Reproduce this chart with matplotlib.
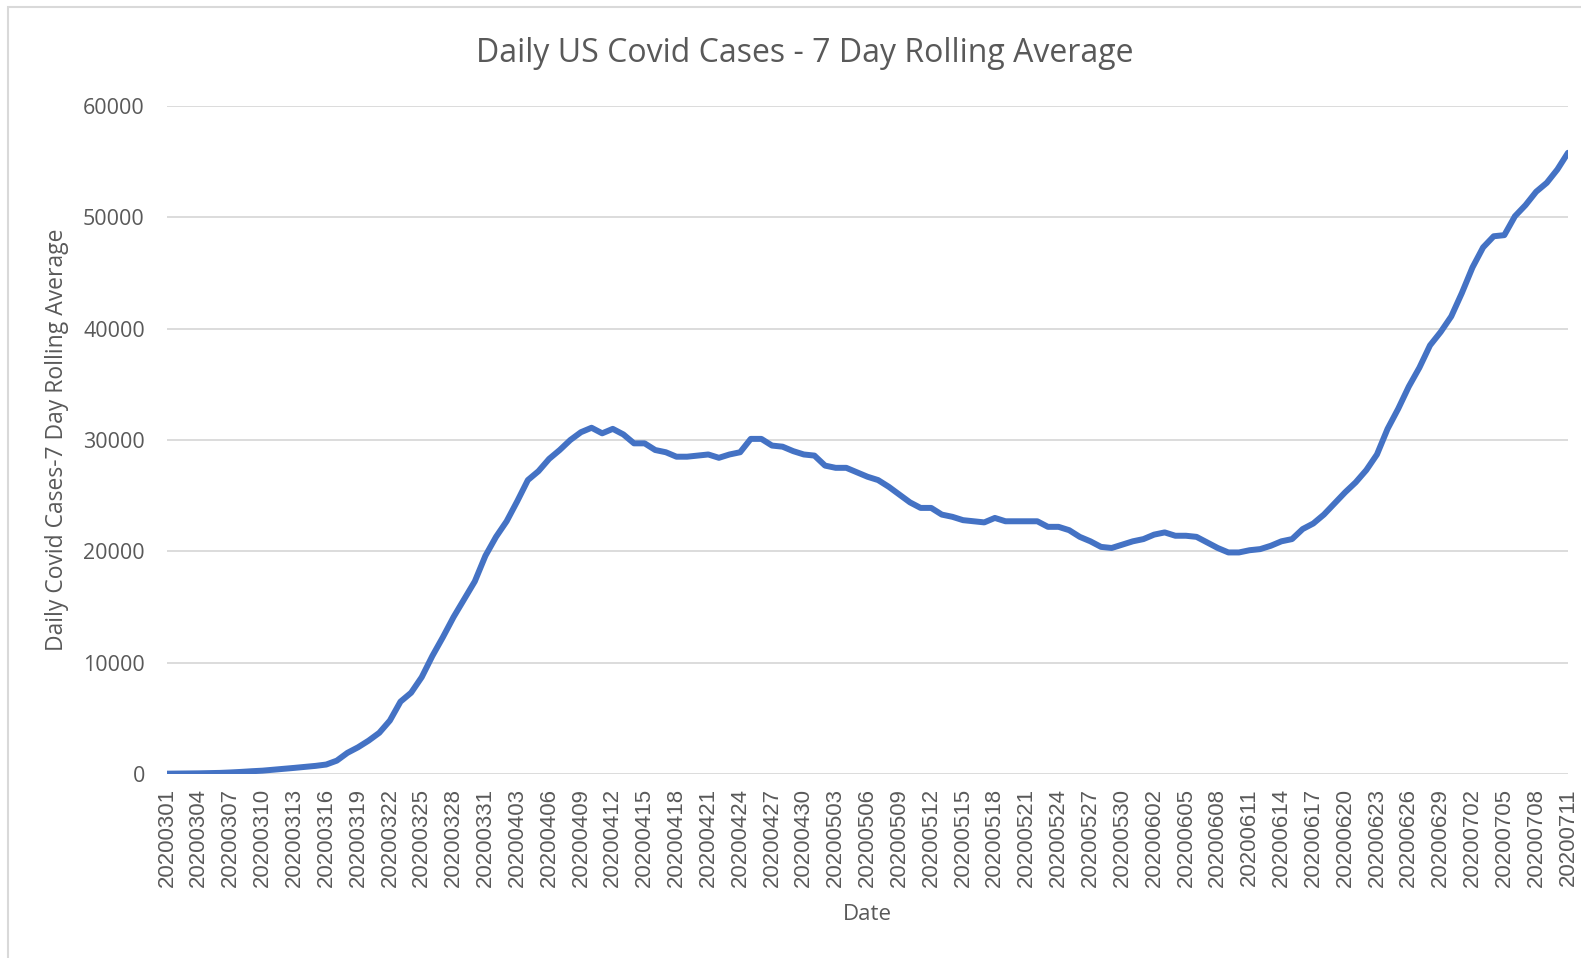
import numpy as np
import pandas as pd
import matplotlib
matplotlib.use('Agg')
import matplotlib.pyplot as plt
from matplotlib.patches import Rectangle

# 7 day rolling average, one value per day
march = [30, 40, 50, 60, 80, 100, 140, 190, 250, 300, 380, 460, 550, 640, 730, 850,
         1200, 1900, 2400, 3000, 3700, 4800, 6500, 7300, 8700, 10600, 12300, 14100,
         15700, 17300, 19600]
april = [21300, 22700, 24500, 26400, 27200, 28300, 29100, 30000, 30700, 31100,
         30600, 31000, 30500, 29700, 29700, 29100, 28900, 28500, 28500, 28600,
         28700, 28400, 28700, 28900, 30100, 30100, 29500, 29400, 29000, 28700]
may = [28600, 27700, 27500, 27500, 27100, 26700, 26400, 25800, 25100, 24400,
       23900, 23900, 23300, 23100, 22800, 22700, 22600, 23000, 22700, 22700,
       22700, 22700, 22200, 22200, 21900, 21300, 20900, 20400, 20300, 20600, 20900]
june = [21100, 21500, 21700, 21400, 21400, 21300, 20800, 20300, 19900, 19900,
        20100, 20200, 20500, 20900, 21100, 22000, 22500, 23300, 24300, 25300,
        26200, 27300, 28700, 31000, 32800, 34800, 36500, 38500, 39700, 41100]
july = [43200, 45500, 47300, 48300, 48400, 50100, 51100, 52300, 53100, 54300, 55800]

cases = march + april + may + june + july
dates = pd.date_range('2020-03-01', '2020-07-11').strftime('%Y%m%d').tolist()
y_ticks = [0, 10000, 20000, 30000, 40000, 50000, 60000]

text_col = '#595959'
plt.rcParams['font.family'] = ['Open Sans', 'DejaVu Sans']

fig = plt.figure(figsize=(15.81, 9.58), dpi=100)
# light chart-area border like the excel export
fig.add_artist(Rectangle((8 / 1581, -0.1), 1.2, 1 - 7 / 958 + 0.1, transform=fig.transFigure,
                         fill=False, edgecolor='#d9d9d9', linewidth=1.5))

ax = fig.add_axes([167 / 1581, 1 - 774 / 958, (1568 - 167) / 1581, (774 - 106) / 958])
x = np.arange(len(cases))
ax.plot(x, cases, color='#4472C4', linewidth=4.3, solid_joinstyle='round', solid_capstyle='round')

ax.set_xlim(0, len(cases) - 1)
ax.set_ylim(0, 60000)
ax.set_yticks(y_ticks)
ax.set_yticklabels([str(v) for v in y_ticks])
ax.set_xticks(x[::3])
ax.set_xticklabels(dates[::3], rotation=90, family=['Liberation Sans', 'DejaVu Sans'])
ax.grid(axis='y', color='#d9d9d9', linewidth=1.3)
ax.set_axisbelow(True)
for s in ['top', 'right', 'left', 'bottom']:
    ax.spines[s].set_visible(False)
ax.tick_params(axis='both', length=0, colors=text_col)
ax.tick_params(axis='y', labelsize=15.5, pad=16)
ax.tick_params(axis='x', labelsize=16, pad=10)

fig.text(0.509, 1 - 54 / 958, 'Daily US Covid Cases - 7 Day Rolling Average', fontsize=23,
         color=text_col, ha='center', va='center')
ax.set_xlabel('Date', fontsize=16, color=text_col, labelpad=12)
ax.set_ylabel('Daily Covid Cases-7 Day Rolling Average', fontsize=16.5, color=text_col, labelpad=10)

fig.savefig('out.png', dpi=100)
